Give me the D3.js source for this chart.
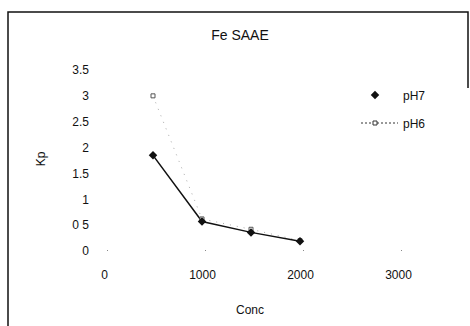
<!DOCTYPE html>
<html><head><meta charset="utf-8">
<script src="https://cdn.jsdelivr.net/npm/d3@7"></script>
<style>body{margin:0;background:#fff}svg{display:block}text{font-family:"Liberation Sans",Arial,sans-serif;fill:#111}</style>
</head><body><svg id="c" width="470" height="326"></svg>
<script>
const conc = [500, 1000, 1500, 2000];
const pH7 = [1.85, 0.57, 0.36, 0.19];
const pH6 = [3.0, 0.62, 0.42, 0.2];
const xTicks = [0, 1000, 2000, 3000];
const yTicks = [0, 0.5, 1, 1.5, 2, 2.5, 3, 3.5];
const yTickLabels = ["0", "0 5", "1", "1.5", "2", "2.5", "3", "3.5"];
const seriesNames = ["pH7", "pH6"];

const svg = d3.select("#c");
const x = d3.scaleLinear().domain([0, 3000]).range([104, 398]);
const y = d3.scaleLinear().domain([0, 3.5]).range([251, 70]);

svg.append("path").attr("d","M8,326 L8,12 L468,12 L468,88")
  .attr("fill","none").attr("stroke","#111").attr("stroke-width",1.5);

svg.append("text").attr("x",240).attr("y",40).attr("text-anchor","middle")
  .attr("font-size",14).text("Fe SAAE");

const ya = svg.append("g").attr("transform","translate(89,0)")
  .call(d3.axisLeft(y).tickValues(yTicks).tickSize(0).tickPadding(0)
    .tickFormat((d,i)=>yTickLabels[i]));
ya.select(".domain").remove();
ya.selectAll("text").attr("font-size",12).attr("font-family","Liberation Sans, Arial, sans-serif").attr("fill","#111");

const xa = svg.append("g").attr("transform","translate(0,270)")
  .call(d3.axisBottom(x).tickValues(xTicks).tickSize(0).tickPadding(0).tickFormat(d3.format("d")));
xa.select(".domain").remove();
xa.selectAll("text").attr("font-size",12).attr("font-family","Liberation Sans, Arial, sans-serif").attr("fill","#111");

svg.selectAll(".td").data(xTicks).join("rect")
  .attr("x",d=>x(d)+3).attr("y",y(0)-1).attr("width",1).attr("height",1).attr("fill","#888");

svg.append("text").attr("x",250).attr("y",314).attr("text-anchor","middle").attr("font-size",12).text("Conc");
svg.append("text").attr("transform","translate(45,159) rotate(-90)").attr("text-anchor","middle").attr("font-size",12).text("Kp");

const line = d3.line().x((d,i)=>x(conc[i])).y(d=>y(d));
svg.append("path").attr("d",line(pH6)).attr("fill","none").attr("stroke","#aaa")
  .attr("stroke-width",1).attr("stroke-dasharray","1,6");
svg.append("path").attr("d",line(pH7)).attr("fill","none").attr("stroke","#111").attr("stroke-width",1.5);

const sq = d3.symbol().type(d3.symbolSquare).size(16);
const dia = d3.symbol().type(d3.symbolSquare).size(36);
svg.selectAll(".p6").data(pH6).join("path")
  .attr("transform",(d,i)=>`translate(${x(conc[i])},${y(d)})`).attr("d",sq)
  .attr("fill","#fff").attr("stroke","#555").attr("stroke-width",1);
svg.selectAll(".p7").data(pH7).join("path")
  .attr("transform",(d,i)=>`translate(${x(conc[i])},${y(d)}) rotate(45)`).attr("d",dia).attr("fill","#111");

const lg = svg.append("g");
lg.append("path").attr("transform","translate(375,95) rotate(45)").attr("d",dia).attr("fill","#111");
lg.append("text").attr("x",403).attr("y",99.5).attr("font-size",12).text(seriesNames[0]);
lg.append("line").attr("x1",361).attr("x2",398).attr("y1",123).attr("y2",123)
  .attr("stroke","#333").attr("stroke-dasharray","2,2");
lg.append("path").attr("transform","translate(375,123)").attr("d",sq)
  .attr("fill","#fff").attr("stroke","#333");
lg.append("text").attr("x",403).attr("y",127.5).attr("font-size",12).text(seriesNames[1]);
</script></body></html>
